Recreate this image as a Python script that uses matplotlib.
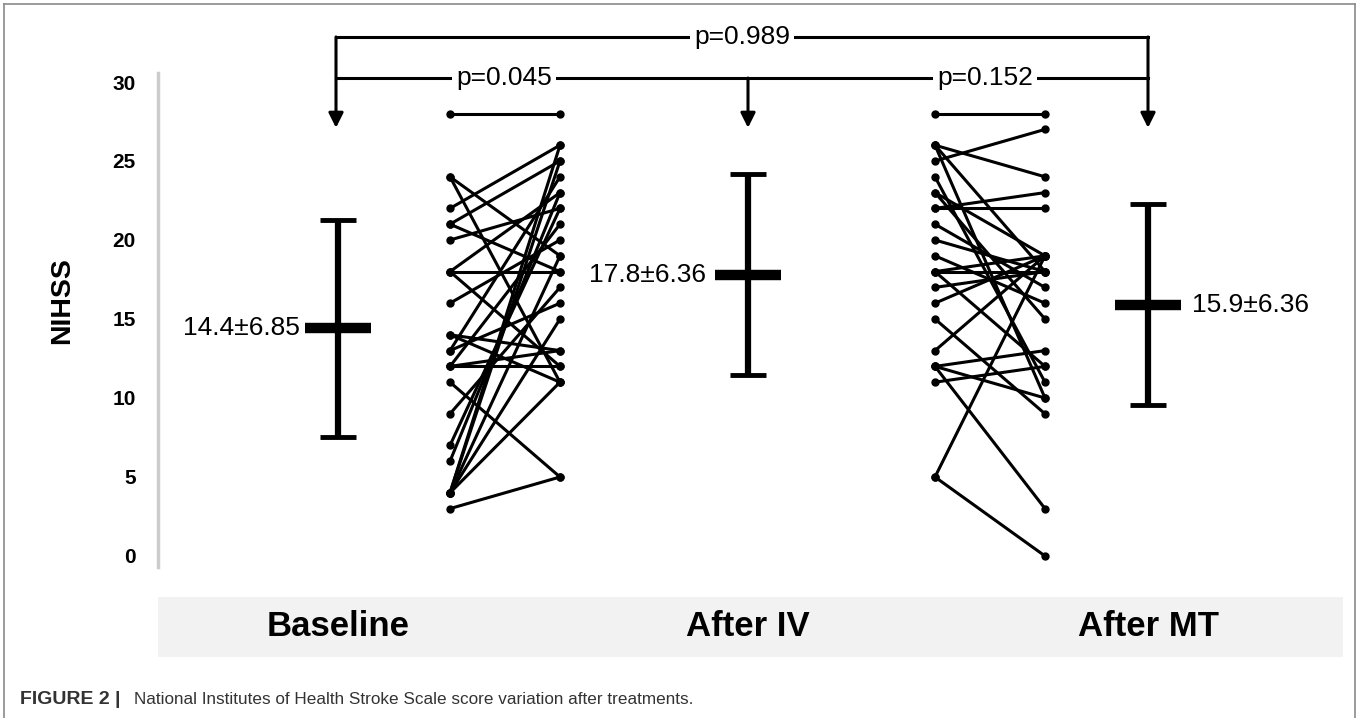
import matplotlib
matplotlib.use("Agg")
import matplotlib.pyplot as plt
from matplotlib.patches import Rectangle
from matplotlib.lines import Line2D

plt.rcParams['font.family'] = ['Liberation Sans', 'DejaVu Sans']

# data
groups = ['Baseline', 'After IV', 'After MT']
means = [14.4, 17.8, 15.9]
sds = [6.85, 6.36, 6.36]
mean_labels = ['14.4±6.85', '17.8±6.36', '15.9±6.36']

# paired scores, baseline -> after IV
base_iv = [28, 24, 24, 22, 21, 21, 20, 18, 18, 18, 16, 14, 14, 13, 13,
           12, 12, 12, 11, 9, 7, 6, 4, 4, 4, 4, 4, 3]
after_iv = [28, 19, 11, 26, 25, 18, 22, 18, 23, 12, 20, 13, 11, 16, 24,
            13, 12, 21, 5, 17, 22, 23, 26, 25, 15, 19, 11, 5]

# paired scores, after IV -> after MT
iv_mt = [28, 26, 26, 26, 25, 24, 23, 23, 22, 22, 21, 20, 19, 18, 18,
         18, 17, 16, 15, 13, 12, 12, 12, 11, 5, 5]
after_mt = [28, 24, 18, 10, 27, 11, 19, 15, 22, 23, 17, 18, 16, 18, 19,
            12, 18, 19, 9, 19, 13, 10, 3, 12, 19, 0]

p_values = ['p=0.989', 'p=0.045', 'p=0.152']
yticks = [0, 5, 10, 15, 20, 25, 30]

W, H = 1359, 718
fig = plt.figure(figsize=(W / 100, H / 100), dpi=100)

# axes placed in pixel space (x axis in pixel-like units)
x0, x1 = 158, 1343
ylo, yhi = -1, 33.3
py = lambda v: 556 - 15.8 * v
ax = fig.add_axes([x0 / W, 1 - py(ylo) / H, (x1 - x0) / W, (py(ylo) - py(yhi)) / H])
ax.set_xlim(x0, x1)
ax.set_ylim(ylo, yhi)
for s in ax.spines.values():
    s.set_visible(False)
ax.set_xticks([])
ax.set_yticks(yticks)
ax.set_yticklabels([str(t) for t in yticks], fontsize=15, fontweight='bold')
ax.tick_params(axis='y', length=0, pad=16)
ax.plot([158, 158], [-0.7, 30.6], color='#cccccc', lw=2.5, clip_on=False)
ax.set_ylabel('NIHSS', fontsize=20.5, fontweight='bold', labelpad=27)

# summary bars
sum_x = [338, 748, 1148]
for i in range(3):
    ax.errorbar(sum_x[i], means[i], yerr=sds[i], fmt='none', ecolor='black',
                elinewidth=4.5, capsize=13, capthick=3.5)
    ax.plot(sum_x[i], means[i], marker='_', markersize=47, mew=7.5, color='black')
ax.text(300, means[0], mean_labels[0], ha='right', va='center', fontsize=19)
ax.text(706, means[1], mean_labels[1], ha='right', va='center', fontsize=19)
ax.text(1192, means[2], mean_labels[2], ha='left', va='center', fontsize=19)

# paired lines
for a, b in zip(base_iv, after_iv):
    ax.plot([450, 560], [a, b], color='black', lw=2.2, marker='o', markersize=5)
for a, b in zip(iv_mt, after_mt):
    ax.plot([935, 1045], [a, b], color='black', lw=2.2, marker='o', markersize=5)

# brackets with arrows
top_y, mid_y, tip_y = 32.85, 30.25, 27.1
ax.plot([336, 1148], [top_y, top_y], color='black', lw=2.2, clip_on=False)
ax.plot([336, 1148], [mid_y, mid_y], color='black', lw=2.2, clip_on=False)
for xs, ys in [(336, top_y), (748, mid_y), (1148, top_y)]:
    ax.annotate('', xy=(xs, tip_y), xytext=(xs, ys),
                arrowprops=dict(arrowstyle='-|>', color='black', lw=2.2,
                                mutation_scale=22, shrinkA=0, shrinkB=0))
bb = dict(facecolor='white', edgecolor='none', pad=3)
ax.text(742, top_y, p_values[0], ha='center', va='center', fontsize=19, bbox=bb)
ax.text(504, mid_y, p_values[1], ha='center', va='center', fontsize=19, bbox=bb)
ax.text(985, mid_y, p_values[2], ha='center', va='center', fontsize=19, bbox=bb)

# category band
fig.patches.append(Rectangle((158 / W, 1 - 657 / H), (1343 - 158) / W, 60 / H,
                             transform=fig.transFigure, facecolor='#f2f2f2',
                             edgecolor='none', zorder=0))
for gx, g in zip(sum_x, groups):
    fig.text(gx / W, 1 - 627 / H, g, ha='center', va='center', fontsize=25,
             fontweight='bold')

# frame and caption
for xs, ys in [([4, 1355], [4, 4]), ([4, 4], [4, 718]), ([1355, 1355], [4, 718])]:
    fig.add_artist(Line2D([x / W for x in xs], [1 - y / H for y in ys],
                          transform=fig.transFigure, color='#8a8a8a', lw=1.2))
fig.text(20 / W, 1 - 699 / H, 'FIGURE 2 |', ha='left', va='center',
         fontsize=14, fontweight='bold', color='#333333')
fig.text(134 / W, 1 - 699 / H,
         'National Institutes of Health Stroke Scale score variation after treatments.',
         ha='left', va='center', fontsize=12.3, color='#333333')

fig.savefig('out.png', dpi=100)
